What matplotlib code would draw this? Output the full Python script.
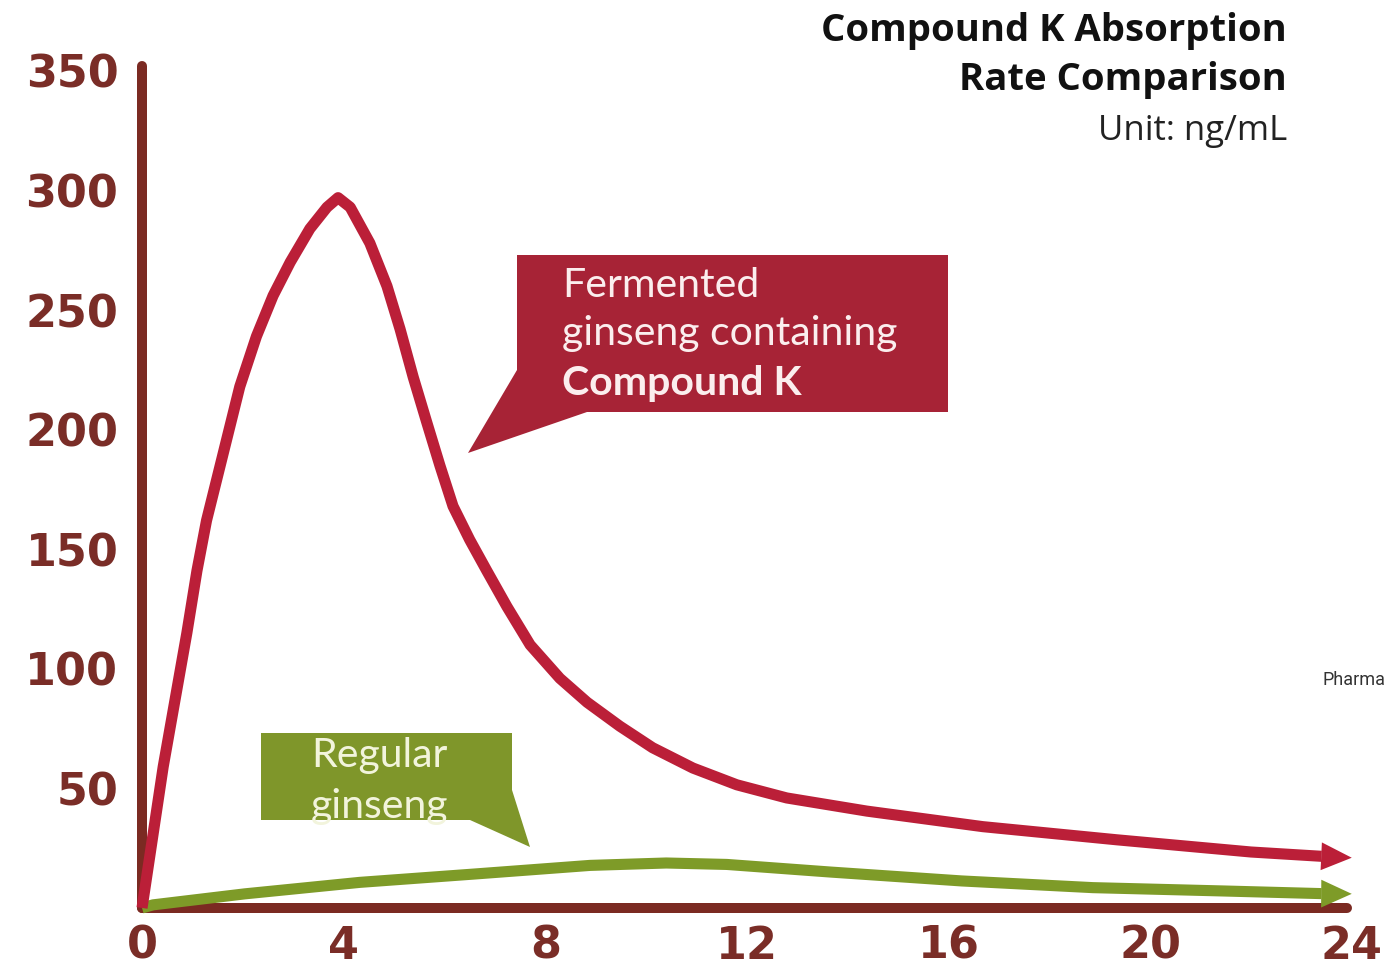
import matplotlib
matplotlib.use("Agg")
import matplotlib.pyplot as plt
from matplotlib.patches import Polygon

# hours after intake vs plasma concentration (ng/mL)
hours_ck = [0, 0.42, 0.89, 1.09, 1.28, 1.61, 1.94, 2.27, 2.6, 2.94, 3.33, 3.67,
            3.89, 4.13, 4.52, 4.86, 5.12, 5.38, 5.65, 5.91, 6.17, 6.5, 6.84,
            7.24, 7.7, 8.29, 8.83, 9.48, 10.13, 10.93, 11.8, 12.79, 14.38,
            16.68, 19.34, 22.0, 23.4, 24.0]
conc_ck = [0, 59, 115, 141, 162, 190, 218, 239, 256, 270, 284, 293,
           297, 293, 278, 260, 242, 222, 203, 185, 168, 154, 141,
           126, 110, 96, 86, 76, 67, 58.5, 51.5, 46, 40.5,
           34, 28.5, 23.4, 21.6, 21]

hours_reg = [0, 0.22, 2.04, 4.32, 6.6, 8.89, 10.4, 11.6, 13.67, 16.26,
             18.86, 21.46, 23.4, 24.0]
conc_reg = [0, 1.3, 5.9, 10.7, 14.2, 17.8, 18.8, 18.2, 15, 11.3,
            8.5, 7.1, 6.0, 5.9]

x_ticks = [0, 4, 8, 12, 16, 20, 24]
y_ticks = [50, 100, 150, 200, 250, 300, 350]

RED = "#bb1f38"
RED_BOX = "#a72336"
GREEN = "#7e9b28"
GREEN_BOX = "#7f962a"
BROWN = "#7b2a22"

W, H = 1385, 969
fig = plt.figure(figsize=(W / 100, H / 100), dpi=100)

# axes placed so x=0 -> px 142, x=24 -> px 1352, y=0 -> px 908, y=350 -> px 71
ax = fig.add_axes([91.6 / W, 1.25 / H, (1382 - 91.6) / W, (967.75 - 47) / H])
ax.set_xlim(-1, 24.6)
ax.set_ylim(-25, 360)
ax.patch.set_alpha(0)

for side in ["top", "right"]:
    ax.spines[side].set_visible(False)
for side in ["left", "bottom"]:
    sp = ax.spines[side]
    sp.set_position(("data", 0))
    sp.set_color(BROWN)
    sp.set_linewidth(7.2)
    sp.set_capstyle("round")
ax.spines["left"].set_bounds(0, 352)
ax.spines["bottom"].set_bounds(0, 23.9)

ax.set_xticks(x_ticks)
ax.set_yticks(y_ticks)
ax.tick_params(length=0, labelsize=32, labelcolor="#7a2d27")
ax.tick_params(axis="y", pad=17)
ax.tick_params(axis="x", pad=12)
for lab in ax.get_xticklabels() + ax.get_yticklabels():
    lab.set_fontweight("bold")
    lab.set_family("DejaVu Sans")


def draw_curve(xs, ys, color):
    ax.plot(xs[:-1], ys[:-1], color=color, lw=8, solid_capstyle="butt",
            solid_joinstyle="round", zorder=4, clip_on=False)
    ax.annotate("", xy=(xs[-1], ys[-1]), xytext=(xs[-2], ys[-2]),
                arrowprops=dict(arrowstyle="-|>,head_length=1.1,head_width=0.5",
                                mutation_scale=20, color=color, lw=0,
                                shrinkA=0, shrinkB=0),
                zorder=4, annotation_clip=False)


draw_curve(hours_reg, conc_reg, GREEN)
draw_curve(hours_ck, conc_ck, RED)


def px(x, y):
    return (x / W, 1 - y / H)


# callout boxes
red_box = Polygon([px(517, 255), px(948, 255), px(948, 412), px(587, 412),
                   px(468, 453), px(517, 370)], closed=True,
                  facecolor=RED_BOX, edgecolor="none", transform=fig.transFigure)
fig.add_artist(red_box)
green_box = Polygon([px(261, 733), px(512, 733), px(512, 790), px(530, 847),
                     px(470, 820), px(261, 820)], closed=True,
                    facecolor=GREEN_BOX, edgecolor="none", transform=fig.transFigure)
fig.add_artist(green_box)
green_clip = Polygon([px(261, 733), px(512, 733), px(512, 820), px(261, 820)],
                     closed=True, transform=fig.transFigure)

box_txt = dict(family="Lato", fontsize=29.5, color="#fbeeee", transform=fig.transFigure)
fig.text(*px(562, 297), "Fermented", **box_txt)
fig.text(*px(562, 345), "ginseng containing", **box_txt)
fig.text(*px(562, 395), "Compound K", fontweight="bold", **box_txt)

g_txt = dict(family="Lato", fontsize=29.5, color="#f2f4dc", ha="center",
             transform=fig.transFigure)
fig.text(*px(379, 767), "Regular", **g_txt)
t = fig.text(*px(379, 818), "ginseng", **g_txt)
t.set_clip_path(green_clip)
t.set_clip_on(True)

# title block
fig.text(*px(1287, 41), "Compound K Absorption", family="Open Sans",
         fontweight="bold", fontsize=27.5, color="#111111", ha="right")
fig.text(*px(1287, 90), "Rate Comparison", family="Open Sans",
         fontweight="bold", fontsize=27.5, color="#111111", ha="right")
fig.text(*px(1287, 140), "Unit: ng/mL", family="Open Sans",
         fontsize=25, color="#222222", ha="right")

fig.text(*px(1323, 680), "Pharma", family="Roboto", fontsize=13,
         color="#333333", va="center")

fig.savefig("out.png", dpi=100)
